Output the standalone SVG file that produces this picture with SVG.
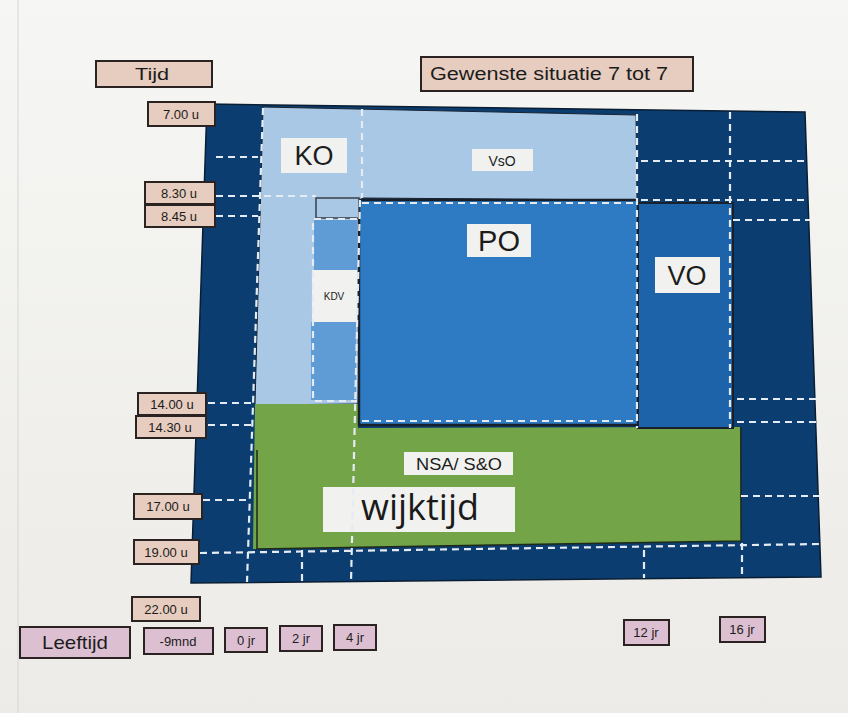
<svg xmlns="http://www.w3.org/2000/svg" width="848" height="713" viewBox="0 0 848 713">
<defs>
<linearGradient id="paper" x1="0" y1="0" x2="0" y2="1">
<stop offset="0" stop-color="#f6f6f4"/>
<stop offset="1" stop-color="#ecebe7"/>
</linearGradient>
<style>
.lbl{fill:#e7cdbf;stroke:#2b2322;stroke-width:2}
.age{fill:#dcc0d2;stroke:#2b2322;stroke-width:2}
.t{font-family:"Liberation Sans",Arial,sans-serif;fill:#1c1c1c;text-anchor:middle}
.wb{fill:#f1f2ef}
.d{stroke:#e4ebf2;stroke-width:2.2;stroke-dasharray:7 5;fill:none}
.o{font-family:"Open Sans","Noto Sans",sans-serif;fill:#1a1a1a;text-anchor:middle}
</style>
</defs>
<rect width="848" height="713" fill="url(#paper)"/>
<line x1="18" y1="0" x2="18" y2="713" stroke="#d6d6d4" stroke-width="1"/>

<g id="header">
<g id="tijd"><rect class="lbl" x="96" y="61" width="116" height="26"/><text class="t" x="152" y="80" font-size="16" textLength="34" lengthAdjust="spacingAndGlyphs">Tijd</text></g>
<g id="title"><rect class="lbl" x="421" y="57" width="272" height="34"/><text class="t" x="549" y="80" font-size="18" textLength="238" lengthAdjust="spacingAndGlyphs">Gewenste situatie 7 tot 7</text></g>
</g>

<g id="background-grid">
<polygon points="207,104 805,112 821,577 191,583" fill="#0c3d70" stroke="#0a1e33" stroke-width="1.5"/>
</g>

<g id="KO-VsO">
<polygon points="263,107 636,115 637,200 362,198 358,404 255,405" fill="#a9c8e6" stroke="#1a2230" stroke-width="1"/>
<rect class="wb" x="281" y="138" width="66" height="35"/>
<text class="t" x="314" y="165" font-size="27">KO</text>
<rect class="wb" x="472" y="149" width="61" height="22"/>
<text class="t" x="502" y="166" font-size="14">VsO</text>
</g>

<g id="NSA-wijktijd">
<polygon points="255,404 358,404 358,428 740,427 741,541 253,549" fill="#74a448"/>
<path d="M257 450 V549 L741 541 V427" fill="none" stroke="#1d2a1a" stroke-width="1.5"/>
<rect class="wb" x="404" y="452" width="109" height="23"/>
<text class="t" x="459" y="470" font-size="17" textLength="86" lengthAdjust="spacingAndGlyphs">NSA/ S&amp;O</text>
<rect class="wb" x="323" y="487" width="192" height="45"/>
<text class="o" x="420" y="520" font-size="36">wijktijd</text>
</g>

<g id="PO">
<rect x="359" y="200" width="279" height="225" fill="#2e7bc3" stroke="#18202c" stroke-width="2.5"/>
<rect class="wb" x="467" y="224" width="64" height="33"/>
<text class="t" x="499" y="251" font-size="29">PO</text>
</g>

<g id="VO">
<rect x="638" y="203" width="95" height="225" fill="#1d63aa" stroke="#18202c" stroke-width="2"/>
<rect class="wb" x="655" y="257" width="65" height="36"/>
<text class="t" x="687" y="285" font-size="27">VO</text>
</g>

<g id="KDV">
<rect x="316" y="198" width="43" height="20" fill="#a9c8e6" stroke="#3a3f48" stroke-width="1.5"/>
<rect x="314" y="220" width="43" height="50" fill="#5f9cd6"/>
<rect class="wb" x="312" y="270" width="45" height="52"/>
<rect x="311" y="322" width="45" height="78" fill="#5f9cd6"/>
<path class="d" d="M357 219 H313 V401 H357"/>
<text class="t" x="334" y="300" font-size="10">KDV</text>
</g>

<g id="connectors">
<path class="d" d="M216 157 H258"/>
<path class="d" d="M216 196 H316"/>
<path class="d" d="M216 216 H258"/>
<path class="d" d="M208 403 H253"/>
<path class="d" d="M208 425 H253"/>
<path class="d" d="M203 500 H250"/>
<path class="d" d="M200 553 L820 544"/>
<path class="d" d="M641 161 H805"/>
<path class="d" d="M641 200 H808"/>
<path class="d" d="M733 220 H810"/>
<path class="d" d="M737 399 H819"/>
<path class="d" d="M737 422 H819"/>
<path class="d" d="M741 496 H820"/>
<path class="d" d="M263 108 L247 582"/>
<path class="d" d="M362 109 V198"/>
<path class="d" d="M360 200 L351 582"/>
<path class="d" d="M302 550 V582"/>
<path class="d" d="M637 114 V428"/>
<path class="d" d="M644 550 V578"/>
<path class="d" d="M730 112 V428"/>
<path class="d" d="M742 543 V576"/>
<path class="d" d="M362 203 H635"/>
<path class="d" d="M362 421 H635"/>
</g>

<g id="times">
<g id="t700"><rect class="lbl" x="148" y="102" width="67" height="24"/><text class="t" x="181" y="119" font-size="13">7.00 u</text></g>
<g id="t830"><rect class="lbl" x="145" y="182" width="70" height="22"/><text class="t" x="179" y="198" font-size="13">8.30 u</text></g>
<g id="t845"><rect class="lbl" x="145" y="205" width="70" height="22"/><text class="t" x="179" y="221" font-size="13">8.45 u</text></g>
<g id="t1400"><rect class="lbl" x="138" y="393" width="68" height="22"/><text class="t" x="172" y="409" font-size="13">14.00 u</text></g>
<g id="t1430"><rect class="lbl" x="136" y="416" width="70" height="22"/><text class="t" x="170" y="432" font-size="13">14.30 u</text></g>
<g id="t1700"><rect class="lbl" x="134" y="494" width="68" height="25"/><text class="t" x="168" y="511" font-size="13">17.00 u</text></g>
<g id="t1900"><rect class="lbl" x="134" y="540" width="65" height="24"/><text class="t" x="166" y="557" font-size="13">19.00 u</text></g>
<g id="t2200"><rect class="lbl" x="132" y="597" width="68" height="24"/><text class="t" x="166" y="614" font-size="13">22.00 u</text></g>
</g>

<g id="ages">
<g id="leeftijd"><rect class="age" x="20" y="627" width="110" height="31"/><text class="t" x="75" y="649" font-size="19" textLength="66" lengthAdjust="spacingAndGlyphs">Leeftijd</text></g>
<g id="a-9mnd"><rect class="age" x="144" y="628" width="69" height="26"/><text class="t" x="178" y="646" font-size="13">-9mnd</text></g>
<g id="a0"><rect class="age" x="225" y="628" width="42" height="24"/><text class="t" x="246" y="645" font-size="13">0 jr</text></g>
<g id="a2"><rect class="age" x="280" y="626" width="42" height="25"/><text class="t" x="301" y="643" font-size="13">2 jr</text></g>
<g id="a4"><rect class="age" x="334" y="625" width="42" height="25"/><text class="t" x="355" y="642" font-size="13">4 jr</text></g>
<g id="a12"><rect class="age" x="624" y="620" width="45" height="25"/><text class="t" x="646" y="637" font-size="13">12 jr</text></g>
<g id="a16"><rect class="age" x="720" y="617" width="45" height="25"/><text class="t" x="742" y="634" font-size="13">16 jr</text></g>
</g>
</svg>
